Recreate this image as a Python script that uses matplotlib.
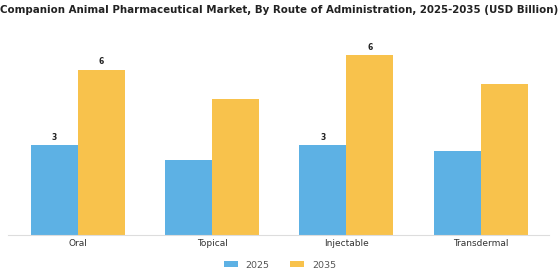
import numpy as np
import matplotlib.pyplot as plt

# data
routes = ["Oral", "Topical", "Injectable", "Transdermal"]
val_2025 = [3.1, 2.6, 3.1, 2.9]
val_2035 = [5.7, 4.7, 6.2, 5.2]
labels_2025 = ["3", "", "3", ""]
labels_2035 = ["6", "", "6", ""]

fig = plt.figure(figsize=(5.6, 2.8), dpi=100)
ax = fig.add_axes([8/560, 45/280, 541/560, 200/280])

x = np.arange(len(routes))
w = 0.35
b1 = ax.bar(x - w/2, val_2025, w, color="#5DB1E4", label="2025")
b2 = ax.bar(x + w/2, val_2035, w, color="#F8C24C", label="2035")

for bars, labs in [(b1, labels_2025), (b2, labels_2035)]:
    for bar, lab in zip(bars, labs):
        if lab:
            ax.text(bar.get_x() + bar.get_width()/2, bar.get_height() + 0.12, lab,
                    ha="center", va="bottom", fontsize=5.5, fontweight="bold", color="#222222")

ax.set_xlim(-0.52, 3.51)
ax.set_ylim(0, 6.9)
ax.set_xticks(x)
ax.set_xticklabels(routes, fontsize=6.5, color="#333333")
ax.set_yticks([])
for s in ["top", "right", "left"]:
    ax.spines[s].set_visible(False)
ax.spines["bottom"].set_color("#dddddd")
ax.tick_params(axis="x", length=0, pad=3)

fig.text(0.4985, 0.965, "Companion Animal Pharmaceutical Market, By Route of Administration, 2025-2035 (USD Billion)",
         ha="center", va="center", fontsize=7.4, fontweight="bold", color="#222222")

fig.legend(handles=[b1, b2], loc="center", bbox_to_anchor=(0.5, 0.053), ncol=2, frameon=False,
           fontsize=6.8, handlelength=1.5, handleheight=0.55, columnspacing=2.2, labelcolor="#555555")

plt.savefig("out.png", dpi=100)
